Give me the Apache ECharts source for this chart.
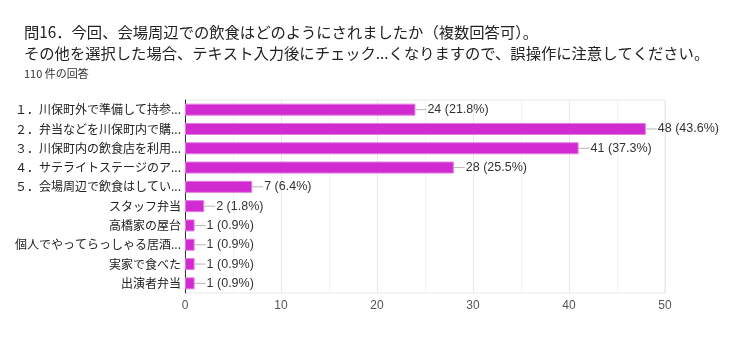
<!DOCTYPE html>
<html>
<head>
<meta charset="utf-8">
<script src="https://cdn.jsdelivr.net/npm/echarts@6/dist/echarts.min.js"></script>
<style>
html,body{margin:0;padding:0;background:#fff;}
#chart{width:739px;height:349px;}
</style>
</head>
<body>
<div id="chart"></div>
<script>
const titleLine1 = '問16．今回、会場周辺での飲食はどのようにされましたか（複数回答可）。';
const titleLine2 = 'その他を選択した場合、テキスト入力後にチェック...くなりますので、誤操作に注意してください。';
const subTitle = '110 件の回答';
const categories = [
  '１．川保町外で準備して持参...',
  '２．弁当などを川保町内で購...',
  '３．川保町内の飲食店を利用...',
  '４．サテライトステージのア...',
  '５．会場周辺で飲食はしてい...',
  'スタッフ弁当',
  '高橋家の屋台',
  '個人でやってらっしゃる居酒...',
  '実家で食べた',
  '出演者弁当'
];
const values = [24, 48, 41, 28, 7, 2, 1, 1, 1, 1];
const percentLabels = ['21.8%', '43.6%', '37.3%', '25.5%', '6.4%', '1.8%', '0.9%', '0.9%', '0.9%', '0.9%'];
const xTicks = [0, 10, 20, 30, 40, 50];

const CJK = '"Noto Sans CJK JP", "Noto Sans", sans-serif';
const LAT = '"Liberation Sans", Arial, sans-serif';

const chart = echarts.init(document.getElementById('chart'), null, {renderer: 'canvas'});
chart.setOption({
  animation: false,
  backgroundColor: '#fff',
  title: [
    {text: titleLine1, left: 24, top: 22, padding: 0,
     textStyle: {fontFamily: CJK, fontSize: 15.3, fontWeight: 'normal', color: '#222', lineHeight: 20}},
    {text: titleLine2, left: 24, top: 43, padding: 0,
     textStyle: {fontFamily: CJK, fontSize: 15.3, fontWeight: 'normal', color: '#222', lineHeight: 20}},
    {text: subTitle, left: 24, top: 67, padding: 0,
     textStyle: {fontFamily: CJK, fontSize: 11, fontWeight: 'normal', color: '#333', lineHeight: 14}}
  ],
  grid: {left: 185, right: 74, top: 100, bottom: 56, show: true, borderColor: '#e8e8e8', borderWidth: 1},
  xAxis: {
    type: 'value', min: xTicks[0], max: xTicks[xTicks.length - 1], interval: 10,
    axisLine: {show: false}, axisTick: {show: false},
    axisLabel: {fontFamily: LAT, fontSize: 12, color: '#555', margin: 7},
    splitLine: {show: true, lineStyle: {color: '#e8e8e8', width: 1}},
    minorTick: {show: false, splitNumber: 2},
    minorSplitLine: {show: true, lineStyle: {color: '#f3f3f3', width: 1}}
  },
  yAxis: {
    type: 'category', data: categories, inverse: true,
    axisLine: {show: true, lineStyle: {color: '#333', width: 1}},
    axisTick: {show: false},
    axisLabel: {fontFamily: CJK, fontSize: 12, color: '#222', margin: 4},
    splitLine: {show: false}
  },
  series: [{
    type: 'bar', data: values, barWidth: 12,
    itemStyle: {color: '#d12ad1', borderColor: '#e27ae2', borderWidth: 1},
    label: {
      show: true, position: 'right', distance: 0,
      formatter: function (p) { return '{l|}{t|' + p.value + ' (' + percentLabels[p.dataIndex] + ')}'; },
      rich: {
        l: {width: 11, height: 1, backgroundColor: '#b5b5b5', verticalAlign: 'middle'},
        t: {fontFamily: LAT, fontSize: 12.5, color: '#333', verticalAlign: 'middle', padding: [0, 0, 0, 1]}
      }
    }
  }]
});
</script>
</body>
</html>
